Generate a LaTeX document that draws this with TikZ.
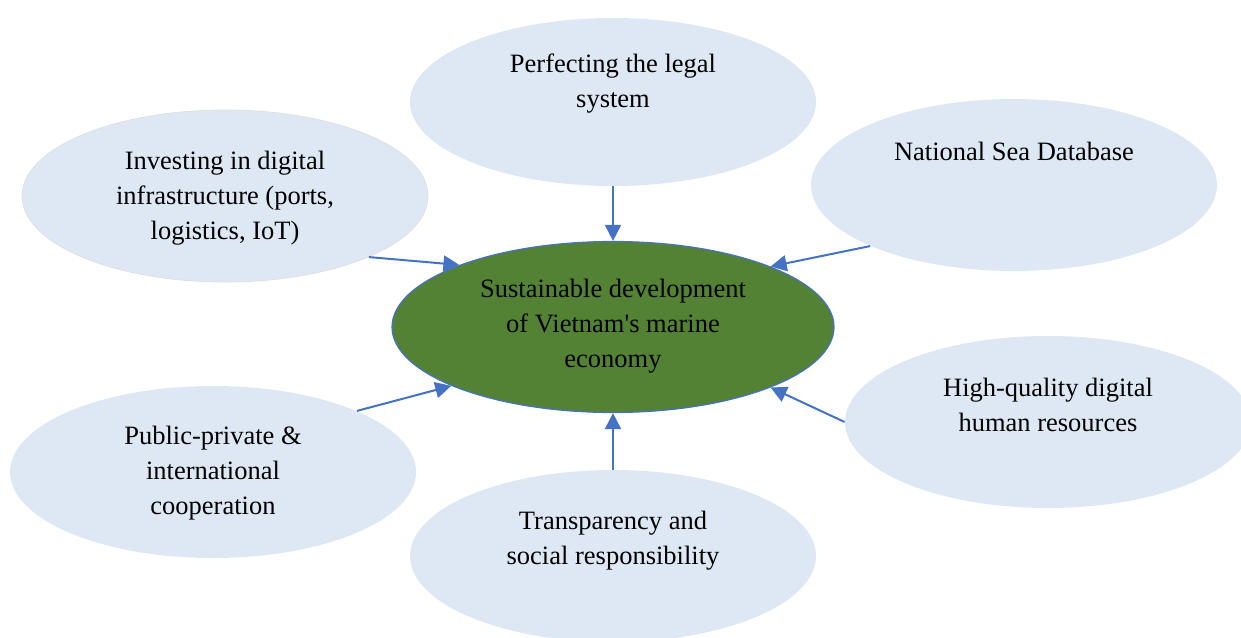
\documentclass[tikz,border=0pt]{standalone}
\usepackage{fontspec}
\setmainfont{Liberation Serif}
\usetikzlibrary{shapes.geometric,arrows.meta}
\definecolor{bubblefill}{HTML}{DEE8F4}
\definecolor{arrowblue}{HTML}{4472C4}
\definecolor{hubgreen}{HTML}{548235}
\tikzset{
  bub/.style={ellipse, fill=bubblefill, draw=none, inner sep=0pt, minimum width=203pt, minimum height=86pt},
  hub/.style={ellipse, fill=hubgreen, draw=arrowblue, line width=0.6pt, inner sep=0pt, minimum width=221pt, minimum height=85.5pt},
  txt/.style={align=center, inner sep=0pt, font=\fontsize{13.25}{17.5}\selectfont, text=black},
  conn/.style={draw=arrowblue, line width=1pt, -{Triangle[length=8pt,width=8pt]}}
}
\begin{document}
\begin{tikzpicture}[x=0.5pt,y=-0.5pt]
\useasboundingbox (0,0) rectangle (1241,637);
\clip (0,0) rectangle (1241,637);
% bubbles
\node[bub, minimum height=84pt] (legal) at (613,102) {};
\node[bub, draw=black!12, line width=0.4pt] (infra) at (225,196) {};
\node[bub] (data) at (1014,185) {};
\node[bub] (human) at (1048,422) {};
\node[bub] (trans) at (613,556) {};
\node[bub] (ppp) at (213,472) {};
\node[hub] (hub) at (613,327) {};
% texts
\node[txt] (tlegal) at (613,84) {Perfecting the legal\\system};
\node[txt] (tinfra) at (225,198) {Investing in digital\\infrastructure (ports,\\logistics, IoT)};
\node[txt] (tdata) at (1014,151) {National Sea Database};
\node[txt] (thuman) at (1048,405) {High-quality digital\\human resources};
\node[txt] (ttrans) at (613,541) {Transparency and\\social responsibility};
\node[txt] (tppp) at (213,473) {Public-private \&\\international\\cooperation};
\node[txt] (thub) at (613,326) {Sustainable development\\of Vietnam\textquotesingle s marine\\economy};
% connectors
\draw[conn] (legal.south) -- (hub.north);
\draw[conn] (trans.north) -- (hub.south);
\draw[conn] (infra.-23.4) -- (hub.158.3);
\draw[conn] (data.203.1) -- (hub.21.8);
\draw[conn] (human.180) -- (hub.-21.2);
\draw[conn] (ppp.23.3) -- (hub.200.5);
\end{tikzpicture}
\end{document}
